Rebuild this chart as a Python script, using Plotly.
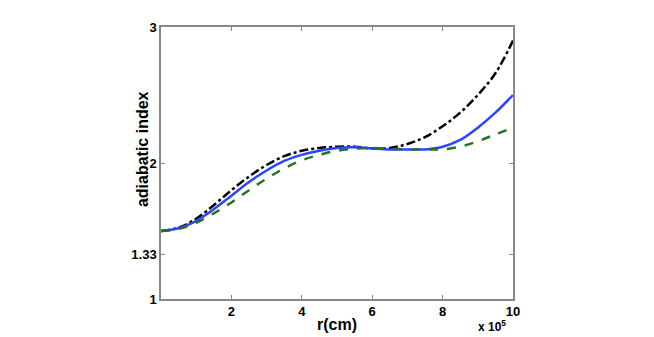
import plotly.graph_objects as go

# r in units of 1e5 cm
r = [0, 0.5, 1, 1.5, 2, 2.5, 3, 3.5, 4, 4.5, 5, 5.5, 6, 6.5, 7, 7.5, 8, 8.5, 9, 9.5, 10]
gamma_black = [1.50, 1.525, 1.59, 1.69, 1.80, 1.90, 1.985, 2.05, 2.09, 2.11, 2.12, 2.12,
               2.107, 2.11, 2.14, 2.19, 2.27, 2.37, 2.50, 2.66, 2.90]
gamma_blue = [1.50, 1.52, 1.575, 1.66, 1.76, 1.86, 1.945, 2.015, 2.06, 2.09, 2.11, 2.115,
              2.107, 2.10, 2.10, 2.10, 2.12, 2.17, 2.26, 2.37, 2.50]
gamma_green = [1.50, 1.515, 1.56, 1.63, 1.71, 1.80, 1.885, 1.96, 2.02, 2.06, 2.09, 2.105,
               2.11, 2.105, 2.10, 2.10, 2.10, 2.12, 2.16, 2.21, 2.26]

y_ticks = [1, 1.33, 2, 3]
y_tick_text = ["1", "1.33", "2", "3"]
x_ticks = [2, 4, 6, 8, 10]

FONT = "Liberation Sans"
BODY = 8  # default page margin around the plot div

W, H = 654 - BODY, 337 - BODY
ML, MR, MT, MB = 161 - BODY, 141, 25 - BODY, 38

fig = go.Figure()
fig.add_trace(go.Scatter(x=r, y=gamma_black, mode="lines", line_shape="spline",
                         line=dict(color="black", width=2.5, dash="dashdot", smoothing=1)))
fig.add_trace(go.Scatter(x=r, y=gamma_blue, mode="lines", line_shape="spline",
                         line=dict(color="#2a45ff", width=2.5, smoothing=1)))
fig.add_trace(go.Scatter(x=r, y=gamma_green, mode="lines", line_shape="spline",
                         line=dict(color="#267326", width=2.5, dash="dash", smoothing=1)))

axis_common = dict(
    showgrid=False, zeroline=False, showline=True, linecolor="#888888", linewidth=1.5,
    mirror="ticks", ticks="inside", ticklen=4, tickcolor="#888888",
    tickfont=dict(family=FONT, size=13, color="black", weight="bold"),
)


def px_to_paper(x, y):
    pw, ph = W - ML - MR, H - MT - MB
    return (x - BODY - ML) / pw, (H - (y - BODY) - MB) / ph


ann = []
for text, x, y, size, angle in [
    ("adiabatic index", 142, 148, 16, -90),
    ("r(cm)", 337, 325, 16, 0),
    ("x 10<sup>5</sup>", 492, 326, 12, 0),
]:
    ax, ay = px_to_paper(x, y)
    ann.append(dict(text=text, x=ax, y=ay, xref="paper", yref="paper", xanchor="center",
                    yanchor="middle", showarrow=False, textangle=angle,
                    font=dict(family=FONT, size=size, color="black", weight="bold")))

fig.update_layout(
    width=W, height=H,
    margin=dict(l=ML, r=MR, t=MT, b=MB),
    paper_bgcolor="white", plot_bgcolor="white",
    showlegend=False,
    xaxis=dict(range=[0, 10], tickvals=x_ticks, ticktext=[str(v) for v in x_ticks], **axis_common),
    yaxis=dict(range=[1, 3], tickvals=y_ticks, ticktext=y_tick_text, **axis_common),
    annotations=ann,
)

fig.write_html("out.html")
